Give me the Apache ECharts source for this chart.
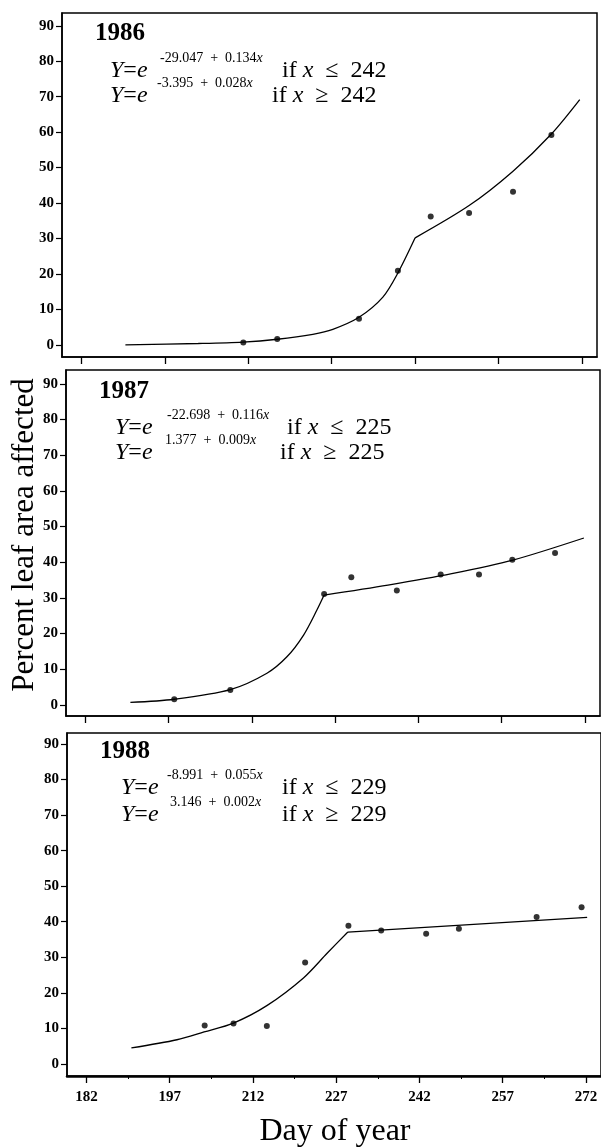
<!DOCTYPE html>
<html>
<head>
<meta charset="utf-8">
<script src="https://cdn.jsdelivr.net/npm/echarts@6.0.0/dist/echarts.min.js"></script>
<style>
  html, body { margin: 0; padding: 0; background: #fff; }
  #chart { width: 601px; height: 1147px; }
</style>
</head>
<body>
<div id="chart"></div>
<script>
// tick labels
const dayTicks = [182, 197, 212, 227, 242, 257, 272]
const minorDayTicks = [189.5, 204.5, 219.5, 234.5, 249.5, 264.5]
const pctTicks = [0, 10, 20, 30, 40, 50, 60, 70, 80, 90]

const years = ['1986', '1987', '1988']

// observed points [day, percent]
const obs1986 = [[211.1, 0.7], [217.2, 1.7], [231.9, 7.4], [238.9, 20.9], [244.8, 36.2], [251.7, 37.2], [259.6, 43.2], [266.5, 59.2]]
const obs1987 = [[198.0, 1.6], [208.1, 4.2], [225.0, 31.1], [229.9, 35.8], [238.1, 32.1], [246.0, 36.6], [252.9, 36.6], [258.9, 40.7], [266.6, 42.6]]
const obs1988 = [[203.3, 10.8], [208.5, 11.4], [214.5, 10.7], [221.4, 28.5], [229.2, 38.9], [235.1, 37.5], [243.2, 36.6], [249.1, 38.0], [263.1, 41.3], [271.2, 44.1]]

// fitted curves, before / after the break
const fitLow1986 = [[189.9, 0.0], [203.0, 0.4], [211.0, 0.8], [217.2, 1.6], [223.6, 3.0], [227.2, 4.4], [231.9, 7.8], [236.2, 13.5], [238.9, 20.3], [242.0, 30.2]]
const fitHigh1986 = [[242.0, 30.2], [251.7, 39.3], [259.6, 49.0], [266.5, 59.5], [271.6, 69.2]]
const fitLow1987 = [[190.1, 0.7], [198.0, 1.6], [208.1, 4.3], [214.7, 8.9], [218.3, 13.5], [221.3, 19.6], [223.7, 26.6], [225.0, 30.8]]
const fitHigh1987 = [[225.0, 30.8], [236.5, 33.6], [248.0, 36.8], [259.0, 40.6], [271.8, 46.8]]
const fitLow1988 = [[190.1, 4.5], [198.3, 6.8], [203.2, 9.0], [208.5, 11.5], [214.5, 16.4], [221.1, 24.2], [225.4, 31.2], [229.1, 37.1]]
const fitHigh1988 = [[229.1, 37.1], [272.2, 41.2]]

// equation text
const expLow = ['-29.047  +  0.134{i|x}', '-22.698  +  0.116{i|x}', '-8.991  +  0.055{i|x}']
const expHigh = ['-3.395  +  0.028{i|x}', '1.377  +  0.009{i|x}', '3.146  +  0.002{i|x}']
const breakDays = ['242', '225', '229']

const obs = [obs1986, obs1987, obs1988]
const fitLow = [fitLow1986, fitLow1987, fitLow1988]
const fitHigh = [fitHigh1986, fitHigh1987, fitHigh1988]

const SERIF = '"Liberation Serif", "DejaVu Serif", serif'

const grids = [
  { left: 62, top: 13, width: 535, height: 344 },
  { left: 66, top: 370, width: 534, height: 346 },
  { left: 67, top: 733, width: 534, height: 343 },
]
const yRange = [[-3.4, 93.6], [-3.1, 93.9], [-3.4, 93.1]]

// where the year label and equations sit in each panel
const labelPos = [
  { yx: 95, yy: 34, ex: 110, ey1: 71, ey2: 96, s1: 160, s2: 157, if1: 282, if2: 272 },
  { yx: 99, yy: 392, ex: 115, ey1: 428, ey2: 453, s1: 167, s2: 165, if1: 287, if2: 280 },
  { yx: 100, yy: 752, ex: 121, ey1: 788, ey2: 815, s1: 167, s2: 170, if1: 282, if2: 282 },
]

function eqLine(x, y, sx, expo, ifX, sign, brk) {
  const big = { fontStyle: 'italic', fontSize: 24, fontFamily: SERIF }
  return [
    { type: 'text', x: x, y: y, style: { text: '{i|Y}={i|e}', fontSize: 24, fontFamily: SERIF, fill: '#000', verticalAlign: 'middle', rich: { i: big } } },
    { type: 'text', x: sx, y: y - 13, style: { text: expo, fontSize: 14, fontFamily: SERIF, fill: '#000', verticalAlign: 'middle', rich: { i: { fontStyle: 'italic', fontSize: 14, fontFamily: SERIF } } } },
    { type: 'text', x: ifX, y: y, style: { text: 'if {i|x}  ' + sign + '  ' + brk, fontSize: 24, fontFamily: SERIF, fill: '#000', verticalAlign: 'middle', rich: { i: big } } },
  ]
}

const graphic = []
years.forEach((yr, i) => {
  const p = labelPos[i]
  graphic.push({ type: 'text', x: p.yx, y: p.yy, style: { text: yr, fontSize: 25, fontWeight: 'bold', fontFamily: SERIF, fill: '#000', verticalAlign: 'middle' } })
  graphic.push(...eqLine(p.ex, p.ey1, p.s1, expLow[i], p.if1, '≤', breakDays[i]))
  graphic.push(...eqLine(p.ex, p.ey2, p.s2, expHigh[i], p.if2, '≥', breakDays[i]))
})
graphic.push({ type: 'text', x: 25, y: 535, rotation: Math.PI / 2, style: { text: 'Percent leaf area affected', fontSize: 31, fontFamily: SERIF, fill: '#000', align: 'center', verticalAlign: 'middle' } })
graphic.push({ type: 'text', x: 335, y: 1132, style: { text: 'Day of year', fontSize: 32, fontFamily: SERIF, fill: '#000', align: 'center', verticalAlign: 'middle' } })

const xAxis = grids.map((g, i) => ({
  type: 'value', gridIndex: i, min: 178.5, max: 274.7,
  axisLine: { onZero: false, lineStyle: { color: '#000', width: i === 2 ? 2.5 : 1.5 } },
  axisTick: { customValues: dayTicks, length: 7, lineStyle: { color: '#000', width: 1.3 } },
  axisLabel: { show: i === 2, customValues: dayTicks, color: '#000', fontSize: 15, fontWeight: 'bold', fontFamily: SERIF, margin: 14 },
  splitLine: { show: false },
}))
// minor ticks on the bottom axis
xAxis.push({
  type: 'value', gridIndex: 2, min: 178.5, max: 274.7, position: 'bottom',
  axisLine: { show: false, onZero: false },
  axisTick: { customValues: minorDayTicks, length: 3, lineStyle: { color: '#000', width: 1 } },
  axisLabel: { show: false },
  splitLine: { show: false },
})

const yAxis = grids.map((g, i) => ({
  type: 'value', gridIndex: i, min: yRange[i][0], max: yRange[i][1],
  axisLine: { onZero: false, lineStyle: { color: '#000', width: 1.5 } },
  axisTick: { customValues: pctTicks, length: 6, lineStyle: { color: '#000', width: 1.2 } },
  axisLabel: { customValues: pctTicks, color: '#000', fontSize: 15, fontWeight: 'bold', fontFamily: SERIF, margin: 8 },
  splitLine: { show: false },
}))

const series = []
years.forEach((yr, i) => {
  series.push({ type: 'scatter', xAxisIndex: i, yAxisIndex: i, data: obs[i], symbolSize: 6, itemStyle: { color: '#000' }, z: 3 })
  series.push({ type: 'line', xAxisIndex: i, yAxisIndex: i, data: fitLow[i], smooth: 0.3, showSymbol: false, lineStyle: { color: '#000', width: 1.3 } })
  series.push({ type: 'line', xAxisIndex: i, yAxisIndex: i, data: fitHigh[i], smooth: 0.3, showSymbol: false, lineStyle: { color: '#000', width: 1.3 } })
})

const chart = echarts.init(document.getElementById('chart'))
chart.setOption({
  animation: false,
  backgroundColor: '#fff',
  grid: grids.map(g => Object.assign({ show: true, borderColor: '#000', borderWidth: 1.5, backgroundColor: 'transparent' }, g)),
  xAxis: xAxis,
  yAxis: yAxis,
  series: series,
  graphic: graphic,
})
</script>
</body>
</html>
